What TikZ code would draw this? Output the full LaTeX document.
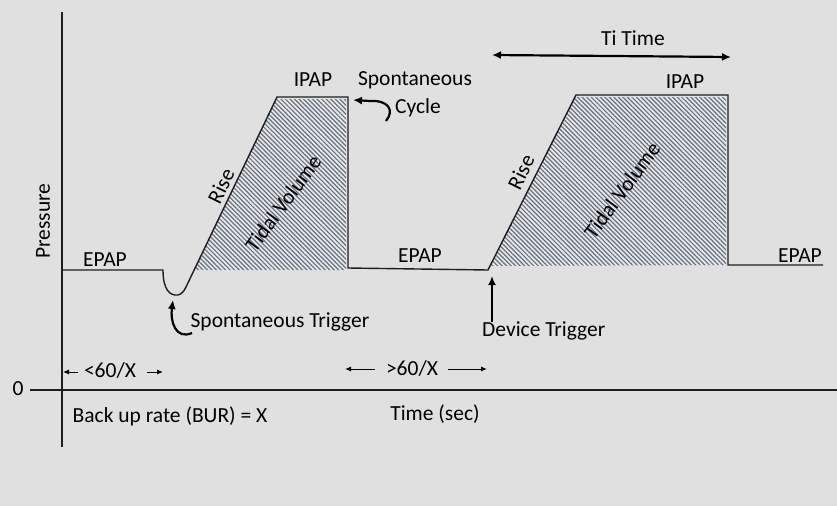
\documentclass[tikz,border=0pt]{standalone}
\usepackage{fontspec}
\setmainfont{Carlito}
\usetikzlibrary{arrows.meta,patterns.meta}
\definecolor{panelgray}{RGB}{224,224,224}
\definecolor{hatchgray}{RGB}{105,112,125}
\definecolor{hatchback}{RGB}{230,232,236}
\definecolor{inkgray}{RGB}{30,30,30}
\tikzset{
  wave/.style={draw=inkgray, line width=1.4pt},
  axis/.style={draw=inkgray, line width=1.2pt},
  hatch/.style={pattern={Lines[angle=-45,distance=3.2pt,line width=1.2pt]}, pattern color=hatchgray},
  lbl/.style={text=black, inner sep=0pt, font=\fontsize{21.5}{25}\selectfont},
  thinarrow/.style={draw=black, line width=1pt, -{Latex[length=6pt,width=5pt]}},
  bigarrow/.style={draw=black, line width=2.2pt, -{Latex[length=9pt,width=8pt]}}
}
\begin{document}
\begin{tikzpicture}[x=1pt,y=-1pt]
                \fill[panelgray] (0,0) rectangle (837,506);
                \useasboundingbox (0,0) rectangle (837,506);

                % Ejes
                \coordinate (yaxtop) at (62,12);
                \coordinate (yaxbot) at (62,447);
                \coordinate (xaxleft) at (30,390);
                \coordinate (xaxright) at (837,390);
                \draw[axis] (yaxtop) -- (yaxbot);
                \draw[axis] (xaxleft) -- (xaxright);
                \node[lbl] (zero) at (18,389) {0};
                \node[lbl, rotate=90] (pressure) at (43,221) {Pressure};

                % Puntos de la curva
                \coordinate (e0) at (62,270);
                \coordinate (d0) at (163,270);
                \coordinate (dmin) at (178,295);
                \coordinate (d1) at (186,287);
                \coordinate (p0) at (277,97);
                \coordinate (p1) at (348,97);
                \coordinate (f1) at (348,268);
                \coordinate (t2) at (488,270);
                \coordinate (p2) at (576,95);
                \coordinate (p3) at (728,95);
                \coordinate (f3) at (728,265);
                \coordinate (e3) at (823,265);

                % Volumen tidal sombreado
                \fill[hatchback] (194,270) -- (276,99) -- (346,99) -- (346,270) -- cycle;
                \fill[hatch] (194,270) -- (276,99) -- (346,99) -- (346,270) -- cycle;
                \fill[hatchback] (490,266) -- (575,97) -- (726,97) -- (726,265) -- cycle;
                \fill[hatch] (490,266) -- (575,97) -- (726,97) -- (726,265) -- cycle;

                \draw[wave] (e0) -- (d0) .. controls (163,290) and (170,296) .. (dmin)
                  .. controls (182,294) and (184,291) .. (d1) -- (p0) -- (p1) -- (f1)
                  -- (t2) -- (p2) -- (p3) -- (f3) -- (e3);

                % Etiquetas de presion
                \node[lbl] (epap1) at (105,260) {EPAP};
                \node[lbl] (epap2) at (420,256) {EPAP};
                \node[lbl] (epap3) at (800,256) {EPAP};
                \node[lbl] (ipap1) at (313,80) {IPAP};
                \node[lbl] (ipap2) at (685,82) {IPAP};
                \node[lbl, rotate=64] (rise1) at (221,186) {Rise};
                \node[lbl, rotate=64] (rise2) at (521,172) {Rise};
                \node[lbl, rotate=54] (tv1) at (283,203) {Tidal Volume};
                \node[lbl, rotate=54] (tv2) at (622,190) {Tidal Volume};

                % Disparos y ciclado
                \node[lbl] (sptrig) at (280,322) {Spontaneous Trigger};
                \coordinate (sptrigfoot) at (192,333);
                \coordinate (sptrigtip) at (173,300);
                \draw[bigarrow] (sptrigfoot) .. controls (176,340) and (170,322) .. (sptrigtip);

                \node[lbl] (spont) at (415,80) {Spontaneous};
                \node[lbl] (cycle) at (418,108) {Cycle};
                \coordinate (cyclefoot) at (386,121);
                \coordinate (cycletip) at (353,100);
                \draw[bigarrow] (cyclefoot) .. controls (395,110) and (388,100) .. (370,101) -- (cycletip);

                \node[lbl, anchor=west] (devtrig) at (482,331) {Device Trigger};
                \coordinate (devfoot) at (492,322);
                \coordinate (devtip) at (492,276);
                \draw[bigarrow] (devfoot) -- (devtip);

                % Tiempos
                \node[lbl] (titime) at (633,38) {Ti Time};
                \coordinate (tileft) at (492,55);
                \coordinate (tiright) at (731,57);
                \draw[bigarrow, {Latex[length=9pt,width=8pt]}-{Latex[length=9pt,width=8pt]}] (tileft) -- (tiright);

                \node[lbl] (lessrate) at (110,370) {<60/X};
                \coordinate (lessl) at (78,372);
                \coordinate (lessle) at (63,372);
                \coordinate (lessr) at (147,372);
                \coordinate (lessre) at (163,372);
                \draw[thinarrow] (lessl) -- (lessle);
                \draw[thinarrow] (lessr) -- (lessre);

                \node[lbl] (morerate) at (412,368) {>60/X};
                \coordinate (morel) at (375,369);
                \coordinate (morele) at (345,369);
                \coordinate (morer) at (448,369);
                \coordinate (morere) at (487,369);
                \draw[thinarrow] (morel) -- (morele);
                \draw[thinarrow] (morer) -- (morere);

                \node[lbl] (bur) at (170,416) {Back up rate (BUR) = X};
                \node[lbl] (timesec) at (435,414) {Time (sec)};
            \end{tikzpicture}
\end{document}
